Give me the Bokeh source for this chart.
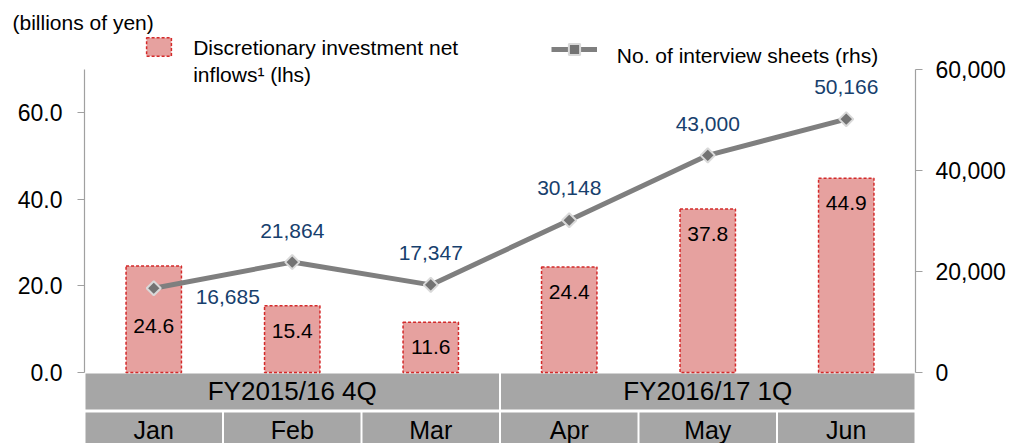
import numpy as np
from bokeh.plotting import figure
from bokeh.models import (ColumnDataSource, Range1d, LinearAxis, FixedTicker,
                          NumeralTickFormatter, Legend, LegendItem, Label)
from bokeh.core.properties import value
from bokeh.embed import file_html
from bokeh.resources import INLINE

# ---------------- data ----------------
months = ["Jan", "Feb", "Mar", "Apr", "May", "Jun"]
quarters = ["FY2015/16 4Q", "FY2016/17 1Q"]
quarter_span = [3, 3]
inflows = [24.6, 15.4, 11.6, 24.4, 37.8, 44.9]          # billions of yen (lhs)
sheets = [16685, 21864, 17347, 30148, 43000, 50166]      # interview sheets (rhs)
left_ticks = [0, 20, 40, 60]
right_ticks = [0, 20000, 40000, 60000]
unit_text = "(billions of yen)"
bar_legend = ["Discretionary investment net", "inflows\u00b9 (lhs)"]
line_legend = "No. of interview sheets (rhs)"

# ---------------- style / layout (page pixels) ----------------
FONT = "Liberation Sans"
W, H = 1011, 443
FL, FR = 84, 915          # frame left / right
FT = 33                   # frame top
AX_TOP = 69               # top of value axes
ZERO = 372                # y of value 0
FB = H                    # frame bottom
FW = FR - FL
Y_AX = 70.0
R_AX = 60000.0
k = (ZERO - AX_TOP) / Y_AX            # px per lhs unit
Y_HI = Y_AX + (AX_TOP - FT) / k
Y_LO = -(FB - ZERO) / k
R_HI = Y_HI / Y_AX * R_AX
R_LO = Y_LO / Y_AX * R_AX
kx = FW / len(months)

sheet_dx = [74, 0, 0, 0, 0, 0]
sheet_dy = [9, -31, -32, -32, -31, -32]
bar_dy = [60, 25, 25, 25, 25, 25]

xs = [i + 0.5 for i in range(len(months))]

p = figure(width=W, height=H, x_range=Range1d(0, len(months)), y_range=Range1d(Y_LO, Y_HI),
           output_backend="svg", toolbar_location=None, x_axis_location=None,
           min_border_left=FL, min_border_right=W - FR, min_border_top=FT, min_border_bottom=0)
p.title.text = unit_text
p.title.align = "left"
p.title.offset = 12 - FL
p.title.standoff = 0
p.title.vertical_align = "bottom"
p.title.text_font = FONT
p.title.text_font_size = "21px"
p.title.text_font_style = "normal"
p.title.text_color = "black"
p.grid.visible = False
p.outline_line_color = None
p.background_fill_color = "white"
p.border_fill_color = "white"

# ---------------- category band ----------------
gap = 1.0 / kx
q_left, q_right, q_mid = [], [], []
start = 0
for s in quarter_span:
    q_left.append(start + gap)
    q_right.append(start + s - gap)
    q_mid.append(start + s / 2)
    start += s
row1_top, row1_bot = -1 / k, -37 / k
row2_top, row2_bot = -40 / k, -80 / k
p.quad(left=q_left, right=q_right, top=row1_top, bottom=row1_bot,
       fill_color="#a6a6a6", line_color=None)
p.quad(left=[x - 0.5 + gap for x in xs], right=[x + 0.5 - gap for x in xs],
       top=row2_top, bottom=row2_bot, fill_color="#a6a6a6", line_color=None)
p.text(x=q_mid, y=[-18.5 / k] * len(quarters), text=quarters, text_align="center",
       text_baseline="middle", text_font=value(FONT), text_font_size="26px", text_color="black")
p.text(x=xs, y=[-(429.5 - ZERO) / k] * len(months), text=months, text_align="center",
       text_baseline="middle", text_font=value(FONT), text_font_size="25px", text_color="black")

# ---------------- series ----------------
src = ColumnDataSource(dict(
    x=xs, inflows=inflows, sheets=sheets,
    inflow_txt=[f"{v:.1f}" for v in inflows],
    sheet_txt=[f"{v:,}" for v in sheets],
    sdx=sheet_dx, sdy=sheet_dy, bdy=bar_dy,
))
p.extra_y_ranges = {"right": Range1d(R_LO, R_HI)}

r_bar = p.vbar(x="x", top="inflows", bottom=0, width=0.4, source=src,
               fill_color="#e6a19f", line_color="#d42a2a", line_width=1.5, line_dash="3 2")
r_line = p.line(x="x", y="sheets", source=src, y_range_name="right",
                line_color="#7f7f7f", line_width=5)
r_mark = p.scatter(x="x", y="sheets", source=src, y_range_name="right", marker="square",
                   angle=np.pi / 4, size=10, fill_color="#737373", line_color="#d9d9d9",
                   line_width=2)

p.text(x="x", y="inflows", text="inflow_txt", source=src, y_offset="bdy",
       text_align="center", text_baseline="middle", text_font=value(FONT),
       text_font_size="21px", text_color="black")
p.text(x="x", y="sheets", text="sheet_txt", source=src, y_range_name="right",
       x_offset="sdx", y_offset="sdy", text_align="center", text_baseline="middle",
       text_font=value(FONT), text_font_size="21px", text_color="#17406d")

# ---------------- axes ----------------
def style_axis(ax, standoff):
    ax.axis_line_color = "#a0a0a0"
    ax.axis_line_width = 1.2
    ax.major_tick_line_color = "#a0a0a0"
    ax.major_tick_line_width = 1.2
    ax.major_tick_out = 7
    ax.major_tick_in = 0
    ax.minor_tick_out = 0
    ax.minor_tick_in = 0
    ax.major_label_text_font = FONT
    ax.major_label_text_font_size = "23px"
    ax.major_label_text_color = "black"
    ax.major_label_standoff = standoff

ly = p.yaxis[0]
ly.ticker = FixedTicker(ticks=left_ticks)
ly.formatter = NumeralTickFormatter(format="0.0")
ly.bounds = (0, Y_AX)
style_axis(ly, 15)

ry = LinearAxis(y_range_name="right", ticker=FixedTicker(ticks=right_ticks),
                formatter=NumeralTickFormatter(format="0,0"), bounds=(0, R_AX))
style_axis(ry, 13)
p.add_layout(ry, "right")

# ---------------- legend swatches ----------------
def swatch_legend(items, gw, gh, left, bottom):
    lg = Legend(items=items, location=(left - FL, FB - bottom), glyph_width=gw, glyph_height=gh,
                label_text_font_size="1px", label_standoff=0, label_width=0, label_height=0,
                padding=0, margin=0, spacing=0, border_line_alpha=0,
                background_fill_alpha=0, orientation="horizontal")
    p.add_layout(lg)
    return lg

swatch_legend([LegendItem(label=" ", renderers=[r_bar])], 31, 23, 142.7, 57.7)
swatch_legend([LegendItem(label=" ", renderers=[r_line, r_mark])], 46, 28, 551, 63)

# ---------------- texts ----------------
def screen_label(txt, x_page, mid_page):
    p.add_layout(Label(x=x_page - FL, y=FB - mid_page, x_units="screen", y_units="screen",
                       text=txt, text_font=FONT, text_font_size="21px", text_color="black",
                       text_align="left", text_baseline="middle"))

screen_label(bar_legend[0], 192.7, 46.7)
screen_label(bar_legend[1], 192.7, 73.5)
screen_label(line_legend, 616.3, 54.5)

open("out.html", "w").write(file_html(p, INLINE))
